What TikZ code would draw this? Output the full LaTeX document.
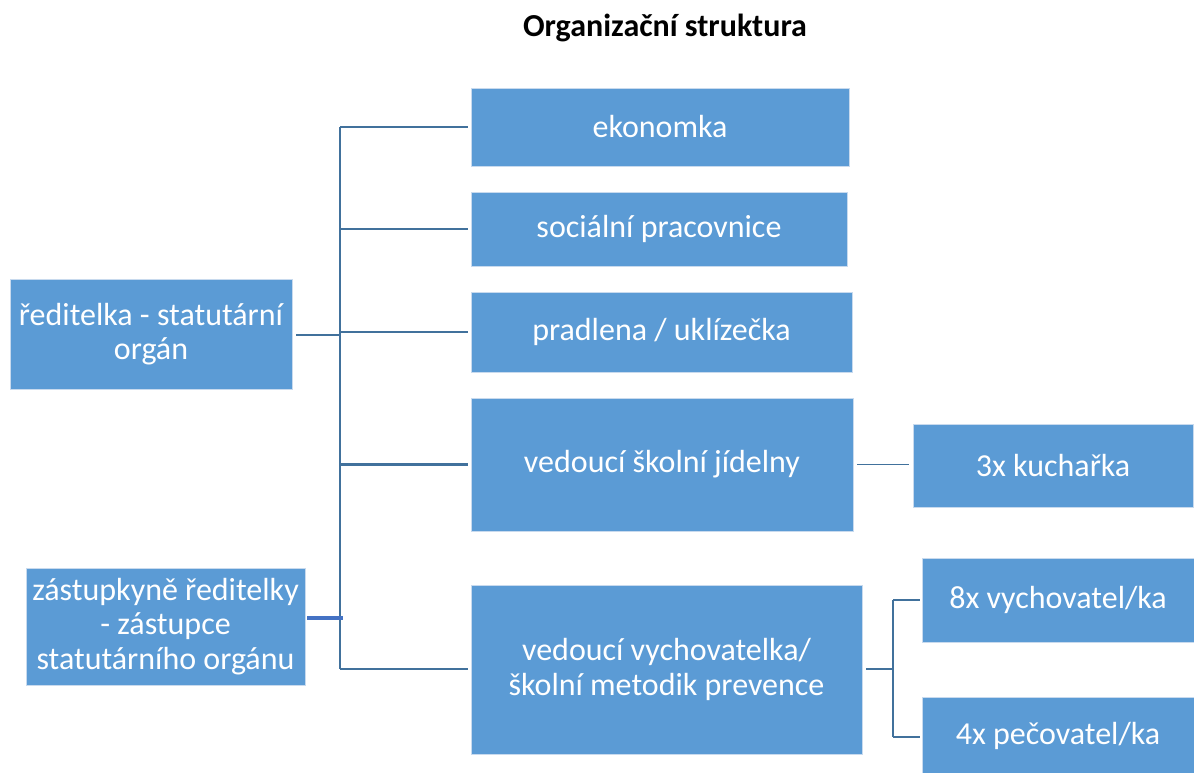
\documentclass[tikz,border=0pt]{standalone}
\usepackage{fontspec}
\setmainfont{Carlito}
\definecolor{boxfill}{RGB}{91,155,213}
\definecolor{boxedge}{RGB}{200,218,238}
\definecolor{conncol}{RGB}{65,113,156}
\definecolor{conncolb}{RGB}{68,114,196}
\begin{document}
\begin{tikzpicture}[x=0.75pt,y=-0.75pt,
  box/.style={rectangle,fill=boxfill,draw=boxedge,line width=0.5pt,text=white,align=center,inner sep=2pt,font=\fontsize{24}{26}\selectfont},
  conn/.style={draw=conncol,line width=1.7pt},
  connb/.style={draw=conncolb,line width=2.4pt}]
\useasboundingbox (0,0) rectangle (1194,772);
\node[font=\bfseries\fontsize{24}{28}\selectfont] (title) at (665,28) {Organizační struktura};
\node[box,minimum width=211.5pt,minimum height=82.5pt] (red) at (151,334) {ředitelka - statutární\\orgán};
\node[box,minimum width=209.25pt,minimum height=87.75pt] (zas) at (165.5,626.5) {zástupkyně ředitelky\\- zástupce\\statutárního orgánu};
\node[box,minimum width=283.5pt,minimum height=58.5pt] (eko) at (660,127) {ekonomka};
\node[box,minimum width=282pt,minimum height=55.5pt] (soc) at (659,229) {sociální pracovnice};
\node[box,minimum width=285.75pt,minimum height=60pt] (pra) at (661.5,332) {pradlena / uklízečka};
\node[box,minimum width=286.5pt,minimum height=99.75pt] (jid) at (662,464.5) {vedoucí školní jídelny};
\node[box,minimum width=293.25pt,minimum height=126.75pt] (vych) at (666.5,669.5) {vedoucí vychovatelka/\\školní metodik prevence};
\node[box,minimum width=210pt,minimum height=62.25pt] (kuch) at (1053,465.5) {3x kuchařka};
\node[box,minimum width=204pt,minimum height=63pt] (v8) at (1058,600) {8x vychovatel/ka};
\node[box,minimum width=204pt,minimum height=58.5pt] (p4) at (1058,736) {4x pečovatel/ka};
\coordinate (t1) at (340,127);
\coordinate (t2) at (340,669);
\coordinate (zj) at (343,618);
\coordinate (vj) at (893,669);
\draw[conn] (t1) -- (t2);
\draw[conn] (t1) -- ([xshift=-2pt]eko.west);
\draw[conn] (soc.west -| t1) -- ([xshift=-2pt]soc.west);
\draw[conn] (pra.west -| t1) -- ([xshift=-2pt]pra.west);
\draw[conn] (jid.west -| t1) -- ([xshift=-2pt]jid.west);
\draw[conn] (t2) -- ([xshift=-2pt]t2 -| vych.west);
\draw[conn] ([xshift=3pt]red.east |- 0,335) -- (t1 |- 0,335);
\draw[connb] ([xshift=1.5pt]zas.east |- zj) -- (zj);
\draw[conn,line width=1.2pt] ([xshift=3pt]jid.east) -- ([xshift=-3pt]jid.east -| kuch.west);
\draw[conn] ([xshift=3pt]vych.east |- vj) -- (vj);
\draw[conn] (vj |- v8.west) -- (vj |- 0,737);
\draw[conn] (vj |- v8.west) -- ([xshift=-1.5pt]v8.west);
\draw[conn] (vj |- 0,737) -- ([xshift=-1.5pt]p4.west |- 0,737);
\end{tikzpicture}
\end{document}
